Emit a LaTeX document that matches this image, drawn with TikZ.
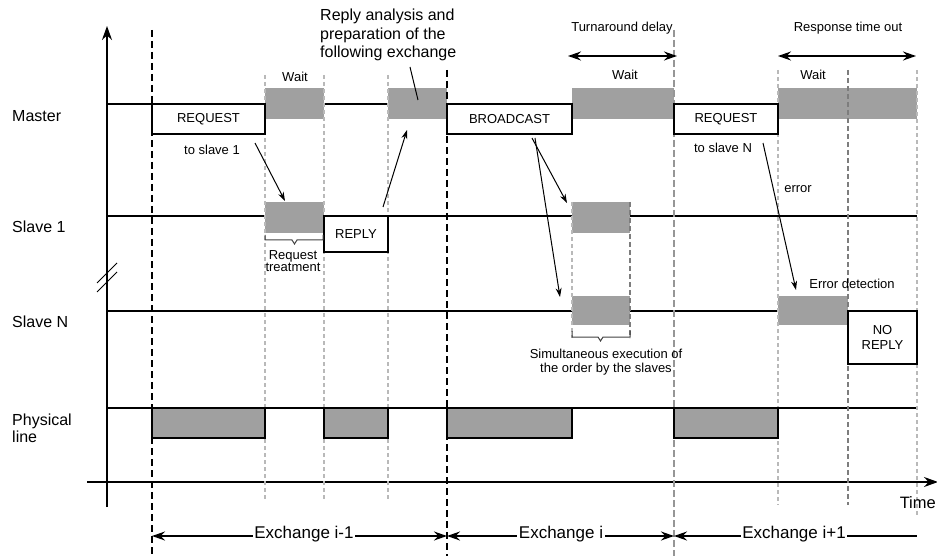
\documentclass[tikz,border=0pt]{standalone}
\usepackage{fontspec}
\setmainfont{Liberation Sans}
\usetikzlibrary{arrows.meta}

\definecolor{busy}{RGB}{160,160,160}
\definecolor{guidelight}{RGB}{185,185,185}
\definecolor{guidemid}{RGB}{150,150,150}
\definecolor{guidedark}{RGB}{125,125,125}

\tikzset{
  lbl/.style={font=\fontsize{16}{18.5}\selectfont, inner sep=0pt, align=left},
  small/.style={font=\fontsize{13}{15.5}\selectfont, inner sep=0pt, align=center},
  xlbl/.style={font=\fontsize{17}{19}\selectfont, inner sep=1.5pt, fill=white},
  signal/.style={line width=1.3pt},
  busybox/.style={fill=busy, inner sep=0pt, anchor=north west, outer sep=0pt},
  framebox/.style={draw=black, fill=white, line width=1.4pt, inner sep=0pt,
                   anchor=north west, outer sep=0pt, font=\fontsize{13}{15.5}\selectfont, align=center},
  framebusy/.style={draw=black, fill=busy, line width=1.4pt, inner sep=0pt,
                    anchor=north west, outer sep=0pt},
  exchline/.style={line width=1.3pt, dash pattern=on 7pt off 4pt},
  turnline/.style={draw=guidemid, line width=1.8pt, dash pattern=on 7pt off 3pt},
  guide/.style={draw=guidelight, line width=1.3pt, dash pattern=on 4pt off 3pt},
  guidedk/.style={draw=guidedark, line width=1.3pt, dash pattern=on 5pt off 3pt},
  msg/.style={line width=1pt, -{Stealth[length=9pt,width=6pt]}},
  span/.style={line width=1.3pt, {Stealth[length=13pt,width=9pt]}-{Stealth[length=13pt,width=9pt]}},
  spanleft/.style={line width=1.3pt, {Stealth[length=13pt,width=9pt]}-},
  bracket/.style={draw=black!75, line width=1pt},
}

\begin{document}
\begin{tikzpicture}[x=1pt,y=-1pt]
\useasboundingbox (0,0) rectangle (937,556);

% axes
\coordinate (yo) at (107,507);
\coordinate (yt) at (107,26);
\coordinate (xo) at (87,482);
\coordinate (xt) at (938,482);
\draw[line width=1.4pt, -{Stealth[length=14pt,width=10pt]}] (yo) -- (yt);
\draw[line width=1.4pt, -{Stealth[length=14pt,width=10pt]}] (xo) -- (xt);
% axis break marks
\draw[line width=1pt] (97,283) -- (117,263);
\draw[line width=1pt] (97,292) -- (117,272);

% signal lines
\coordinate (m0) at (107,104);  \coordinate (m1) at (917,104);
\coordinate (s0) at (107,216);  \coordinate (s1) at (917,216);
\coordinate (n0) at (107,311);  \coordinate (n1) at (917,311);
\coordinate (p0) at (107,408);  \coordinate (p1) at (917,408);
\draw[signal] (m0) -- (m1);
\draw[signal] (s0) -- (s1);
\draw[signal] (n0) -- (n1);
\draw[signal] (p0) -- (p1);

% busy periods without outline
\node[busybox, minimum width=59pt, minimum height=31pt] (mwait1) at (265,88) {};
\node[busybox, minimum width=59pt, minimum height=31pt] (mprep) at (388,88) {};
\node[busybox, minimum width=102pt, minimum height=31pt] (mwait2) at (572,88) {};
\node[busybox, minimum width=139pt, minimum height=31pt] (mwait3) at (778,88) {};
\node[busybox, minimum width=59pt, minimum height=31pt] (s1treat) at (265,202) {};
\node[busybox, minimum width=58pt, minimum height=31pt] (s1exec) at (572,202) {};
\node[busybox, minimum width=58pt, minimum height=29pt] (snexec) at (572,296) {};
\node[busybox, minimum width=70pt, minimum height=29pt] (snerr) at (778,296) {};

% exchange boundaries and timing guides
\draw[exchline] (152,30) -- (152,556);
\draw[exchline] (447,70) -- (447,556);
\draw[turnline] (674,30) -- (674,556);
\draw[guide] (265,75) -- (265,500);
\draw[guide] (324,75) -- (324,500);
\draw[guide] (388,75) -- (388,500);
\draw[guide] (778,70) -- (778,505);
\draw[guidedk] (848,70) -- (848,505);
\draw[guide] (917,70) -- (917,515);
\draw[guide] (572,202) -- (572,338);
\draw[guidedk] (630,202) -- (630,338);

% framed frames
\node[framebox, minimum width=113pt, minimum height=30pt] (req1) at (152,104) {REQUEST};
\node[framebox, minimum width=125pt, minimum height=30pt] (bcast) at (447,104) {BROADCAST};
\node[framebox, minimum width=104pt, minimum height=30pt] (reqn) at (674,104) {REQUEST};
\node[framebox, minimum width=64pt, minimum height=36pt] (reply) at (324,216) {REPLY};
\node[framebox, minimum width=69pt, minimum height=53pt] (noreply) at (848,311) {NO\\[-1pt]REPLY};

% physical line occupancy
\node[framebusy, minimum width=113pt, minimum height=30pt] (phy1) at (152,408) {};
\node[framebusy, minimum width=64pt, minimum height=30pt] (phy2) at (324,408) {};
\node[framebusy, minimum width=125pt, minimum height=30pt] (phy3) at (447,408) {};
\node[framebusy, minimum width=104pt, minimum height=30pt] (phy4) at (674,408) {};

% brackets under processing periods
\draw[bracket] (265,235) -- (265,240) -- (292,240) -- (294.5,244) -- (297,240) -- (323,240) -- (323,235);
\draw[bracket] (572,331) -- (572,337) -- (598,337) -- (600.5,341) -- (603,337) -- (630,337) -- (630,331);

% row labels
\node[lbl, anchor=west] (lmaster) at (12,116) {Master};
\node[lbl, anchor=west] (lslave1) at (12,227) {Slave 1};
\node[lbl, anchor=west] (lslaven) at (12,322) {Slave N};
\node[lbl, anchor=west] (lphys) at (12,428) {Physical\\[-1.5pt]line};

% annotations
\node[lbl, anchor=north west] (tprep) at (320,9) {Reply analysis and\\preparation of the\\following exchange};
\node[small] (tw1) at (295,77) {Wait};
\node[small] (tw2) at (625,75) {Wait};
\node[small] (tw3) at (813,75) {Wait};
\node[small] (tto1) at (212,150) {to slave 1};
\node[small] (ttreat) at (293,261) {Request\\[-3pt]treatment};
\node[small] (ttoN) at (723,148) {to slave N};
\node[small] (terr) at (798,189) {error};
\node[small] (tdet) at (852,284) {Error detection};
\node[small] (tsim) at (606,362) {Simultaneous execution of\\[-1pt]the order by the slaves};
\node[small] (tturn) at (622,28) {Turnaround delay};
\node[small] (tresp) at (848,28) {Response time out};
\node[lbl, anchor=east, font=\fontsize{16.5}{19}\selectfont] (ttime) at (936,503) {Time};

% message arrows
\coordinate (a1s) at (255,143);  \coordinate (a1e) at (285,201);
\coordinate (a2s) at (383,207);  \coordinate (a2e) at (407,130);
\coordinate (a3s) at (410,67);   \coordinate (a3e) at (418,100);
\coordinate (a4s) at (532,138);  \coordinate (a4e) at (567,203);
\coordinate (a5s) at (535,138);  \coordinate (a5e) at (560,297);
\coordinate (a6s) at (763,143);  \coordinate (a6e) at (796,290);
\draw[msg] (a1s) -- (a1e);
\draw[msg] (a2s) -- (a2e);
\draw[line width=1pt] (a3s) -- (a3e);
\draw[msg] (a4s) -- (a4e);
\draw[msg] (a5s) -- (a5e);
\draw[msg] (a6s) -- (a6e);

% timing spans
\coordinate (tds) at (568,56);  \coordinate (tde) at (677,56);
\coordinate (rts) at (778,56);  \coordinate (rte) at (916,56);
\draw[span] (tds) -- (tde);
\draw[span] (rts) -- (rte);

% exchange spans
\coordinate (e0) at (152,536);
\coordinate (e1) at (447,536);
\coordinate (e2) at (674,536);
\coordinate (e3) at (917,536);
\draw[span] (e0) -- (e1);
\draw[span] (e1) -- (e2);
\draw[spanleft] (e2) -- (e3);
\node[xlbl] (x1) at (304,534) {Exchange i-1};
\node[xlbl] (x2) at (561,534) {Exchange i};
\node[xlbl] (x3) at (794,534) {Exchange i+1};
\end{tikzpicture}
\end{document}
